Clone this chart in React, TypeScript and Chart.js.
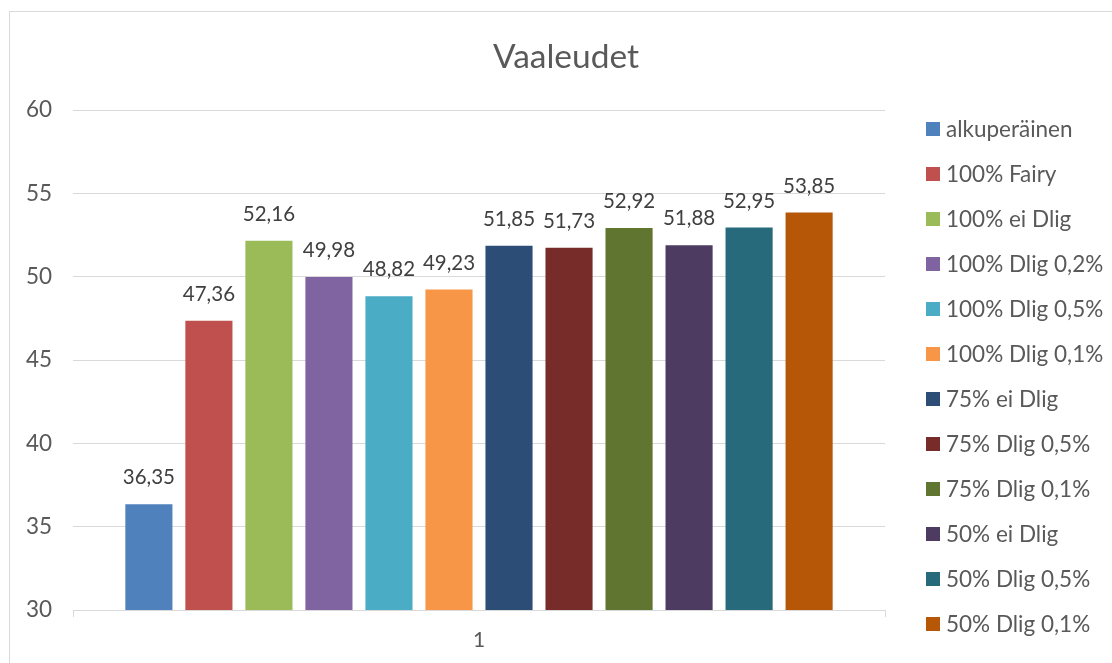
import React, { useEffect, useRef } from "react";
import { Chart, registerables } from "chart.js";

Chart.register(...registerables);

// Data
const categories = ["1"];
const seriesNames = [
  "alkuperäinen",
  "100% Fairy",
  "100% ei Dlig",
  "100% Dlig 0,2%",
  "100% Dlig 0,5%",
  "100% Dlig 0,1%",
  "75% ei Dlig",
  "75% Dlig 0,5%",
  "75% Dlig 0,1%",
  "50% ei Dlig",
  "50% Dlig 0,5%",
  "50% Dlig 0,1%",
];
const seriesValues = [36.35, 47.36, 52.16, 49.98, 48.82, 49.23, 51.85, 51.73, 52.92, 51.88, 52.95, 53.85];
const seriesColors = [
  "#4F81BD",
  "#C0504D",
  "#9BBB59",
  "#8064A2",
  "#4BACC6",
  "#F79646",
  "#2C4D75",
  "#772C2A",
  "#5F7530",
  "#4D3B62",
  "#276A7C",
  "#B65708",
];
const yMin = 30;
const yMax = 60;
const yStep = 5;
const chartTitle = "Vaaleudet";

const FONT = "Lato, 'Noto Sans', sans-serif";
const TEXT = "#595959";
const GRID = "#d9d9d9";

const fmt = (v: number) => v.toFixed(2).replace(".", ",");

// White background and outer frame
const framePlugin = {
  id: "frame",
  beforeDraw(chart: any) {
    const { ctx, width, height } = chart;
    ctx.save();
    ctx.fillStyle = "#ffffff";
    ctx.fillRect(0, 0, width, height);
    ctx.strokeStyle = GRID;
    ctx.lineWidth = 1;
    ctx.strokeRect(9.5, 11.5, width + 20, height + 20);
    ctx.restore();
  },
};

// Centered title over the whole frame
const titlePlugin = {
  id: "frameTitle",
  afterDraw(chart: any) {
    const { ctx } = chart;
    ctx.save();
    ctx.font = `33.5px ${FONT}`;
    ctx.fillStyle = TEXT;
    ctx.textAlign = "center";
    ctx.textBaseline = "middle";
    ctx.fillText(chartTitle, 566, 57);
    ctx.restore();
  },
};

// Value labels above each bar
const valueLabelPlugin = {
  id: "valueLabels",
  afterDatasetsDraw(chart: any) {
    const { ctx } = chart;
    ctx.save();
    ctx.font = `20.5px ${FONT}`;
    ctx.fillStyle = "#404040";
    ctx.textAlign = "center";
    ctx.textBaseline = "alphabetic";
    chart.data.datasets.forEach((ds: any, i: number) => {
      const meta = chart.getDatasetMeta(i);
      meta.data.forEach((el: any, j: number) => {
        ctx.fillText(fmt(ds.data[j]), el.x, el.y - 20);
      });
    });
    ctx.restore();
  },
};

// Right-hand legend column
const legendPlugin = {
  id: "sideLegend",
  afterDraw(chart: any) {
    const { ctx } = chart;
    ctx.save();
    ctx.font = `22.5px ${FONT}`;
    ctx.textAlign = "left";
    ctx.textBaseline = "middle";
    chart.data.datasets.forEach((ds: any, i: number) => {
      const y = 129 + i * 45;
      ctx.fillStyle = ds.backgroundColor;
      ctx.fillRect(926, y - 7, 14, 14);
      ctx.fillStyle = TEXT;
      ctx.fillText(ds.label, 946, y + 1);
    });
    ctx.restore();
  },
};

export default function App() {
  const canvasRef = useRef<HTMLCanvasElement | null>(null);

  useEffect(() => {
    if (!canvasRef.current) return;
    const chart = new Chart(canvasRef.current, {
      type: "bar",
      data: {
        labels: categories,
        datasets: seriesNames.map((name, i) => ({
          label: name,
          data: [seriesValues[i]],
          backgroundColor: seriesColors[i],
          borderWidth: 0,
          categoryPercentage: 0.887,
          barPercentage: 0.785,
        })),
      },
      options: {
        responsive: false,
        animation: false,
        devicePixelRatio: 1,
        layout: { padding: { left: 0, top: 110, right: 227, bottom: 0 } },
        plugins: {
          legend: { display: false },
          title: { display: false },
          tooltip: { enabled: false },
        },
        scales: {
          x: {
            type: "category",
            offset: true,
            grid: {
              display: true,
              offset: true,
              drawOnChartArea: false,
              drawTicks: true,
              tickLength: 7,
              color: GRID,
            },
            border: { display: true, color: GRID, width: 1 },
            ticks: { color: TEXT, font: { family: FONT, size: 21 }, padding: 11 },
            afterFit(scale: any) {
              scale.height = 53;
            },
          },
          y: {
            min: yMin,
            max: yMax,
            ticks: {
              stepSize: yStep,
              color: TEXT,
              font: { family: FONT, size: 22.5 },
              padding: 21,
            },
            grid: { color: GRID, drawTicks: false },
            border: { display: false },
            afterFit(scale: any) {
              scale.width = 73;
            },
          },
        },
      },
      plugins: [framePlugin, valueLabelPlugin, titlePlugin, legendPlugin],
    });
    return () => chart.destroy();
  }, []);

  return (
    <div style={{ position: "fixed", left: 0, top: 0, width: 1112, height: 663, overflow: "hidden", background: "#fff" }}>
      <canvas ref={canvasRef} width={1112} height={663} style={{ display: "block" }} />
    </div>
  );
}
